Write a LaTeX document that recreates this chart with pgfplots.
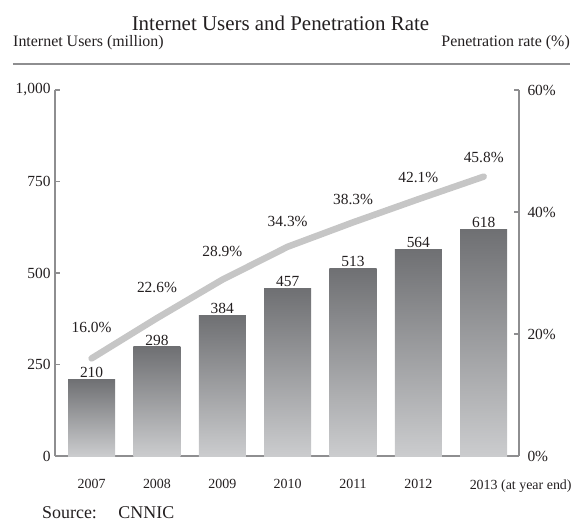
\documentclass[border=0pt]{standalone}
\usepackage{fontspec}
\setmainfont{Liberation Serif}
\usepackage{pgfplots}
\pgfplotsset{compat=1.18}
\definecolor{axisgray}{HTML}{8E8E90}
\definecolor{bartop}{HTML}{6F7073}
\definecolor{barbot}{HTML}{CBCCCE}
\definecolor{linegray}{HTML}{C6C6C6}
\definecolor{txt}{HTML}{231F20}
\newcommand{\lblfont}{\fontsize{15.5}{17}\selectfont}
\newcommand{\xfont}{\fontsize{14}{16}\selectfont}
\begin{document}
\begin{tikzpicture}[every node/.style={text=txt}]
\useasboundingbox (-55bp,-69bp) rectangle (517bp,456bp);
\pgfplotsset{
  common/.style={
    at={(0,0)}, anchor=south west, scale only axis,
    width=464bp, height=366bp,
    xmin=-0.56, xmax=6.54,
    /pgf/number format/assume math mode=true,
    tick label style={font=\lblfont, text=txt},
    tick align=inside, major tick length=5bp,
    tick style={draw=axisgray, line width=1.1bp},
    axis line style={-, draw=axisgray, line width=1.3bp},
  },
  onebar/.style={ybar, bar width=0.72, bar shift=0pt, draw=none,
    top color=bartop, bottom color=barbot,
    nodes near coords, point meta=explicit symbolic},
}
\begin{axis}[common,
  axis lines*=left,
  ymin=0, ymax=1000,
  ytick={0,250,500,750,1000},
  yticklabels={0,250,500,750,{1,000}},
  yticklabel style={xshift=-1bp},
  xtick={0,1,2,3,4,5,6},
  xticklabels={2007,2008,2009,2010,2011,2012,{2013\rlap{ (at year end)}}},
  x tick style={draw=none},
  xticklabel style={font=\xfont, yshift=-20bp},
  nodes near coords style={font=\lblfont, text=txt, inner sep=1.5bp, anchor=south},
]
\addplot[onebar] coordinates {(0,210)[210]};
\addplot[onebar] coordinates {(1,298)[298]};
\addplot[onebar] coordinates {(2,384)[384]};
\addplot[onebar] coordinates {(3,457)[457]};
\addplot[onebar] coordinates {(4,513)[513]};
\addplot[onebar] coordinates {(5,564)[564]};
\addplot[onebar] coordinates {(6,618)[618]};
\end{axis}
\begin{axis}[common,
  axis x line=none, axis y line*=right,
  ymin=0, ymax=60,
  ytick={0,20,40,60},
  yticklabels={0\%,20\%,40\%,60\%},
  yticklabel style={xshift=5bp},
]
\addplot[linegray, line width=6.5bp, line cap=round, line join=round, mark=none]
  coordinates {(0,16.0) (1,22.6) (2,28.9) (3,34.3) (4,38.3) (5,42.1) (6,45.8)};
\addplot[draw=none, mark=none, nodes near coords, point meta=explicit symbolic,
  nodes near coords style={font=\lblfont, text=txt, anchor=center, inner sep=0pt}]
  coordinates {(0,21.0)[16.0\%] (1,27.7)[22.6\%] (2,33.6)[28.9\%] (3,38.4)[34.3\%] (4,42.1)[38.3\%] (5,45.6)[42.1\%] (6,49.0)[45.8\%]};
\end{axis}
\node[font=\fontsize{21}{24}\selectfont, anchor=center] at (225.5bp,433bp) {Internet Users and Penetration Rate};
\node[font=\fontsize{16}{18}\selectfont, anchor=west, inner sep=0pt] at (-42bp,413bp) {Internet Users (million)};
\node[font=\fontsize{16}{18}\selectfont, anchor=east, inner sep=0pt] at (515bp,413bp) {Penetration rate (\%)};
\draw[axisgray, line width=1.2bp] (-42bp,392bp) -- (515bp,392bp);
\node[font=\fontsize{18}{21}\selectfont, anchor=west, inner sep=0pt] at (-13bp,-57bp) {Source:\hspace{1.2em}CNNIC};
\end{tikzpicture}
\end{document}
